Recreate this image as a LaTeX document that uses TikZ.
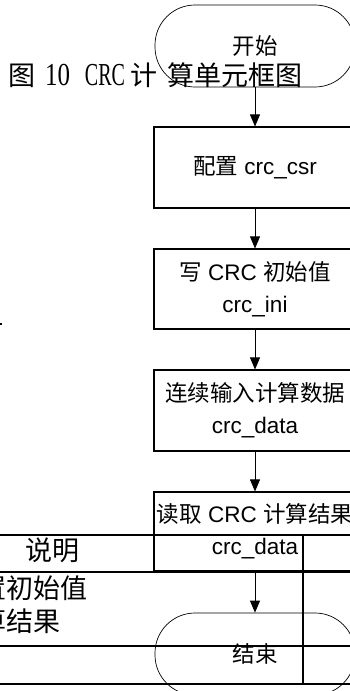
\documentclass[tikz,border=0pt]{standalone}
\usepackage{fontspec}
\usepackage{graphicx}
\setmainfont{Liberation Sans}
\newfontfamily\cjk{Noto Sans CJK SC}
\newfontfamily\seriffont{Liberation Serif}
\usetikzlibrary{arrows.meta}
\newcommand{\zh}[1]{{\cjk #1}}
\newcommand{\flowfont}{\fontsize{22.5}{32}\selectfont}
\newcommand{\capfont}{\cjk\fontsize{27}{30}\selectfont}
\begin{document}
\begin{tikzpicture}[x=1pt,y=-1pt,
  box/.style={draw, line width=1.1pt, minimum width=202pt, inner sep=0pt, align=center, font=\flowfont},
  term/.style={draw, line width=0.7pt, rounded corners=40pt, minimum width=200pt, minimum height=82pt, inner sep=0pt, font=\flowfont},
  arr/.style={line width=0.9pt, -{Triangle[length=12pt,width=10pt]}},
  tab/.style={line width=2.6pt},
  lbl/.style={anchor=base, inner sep=0pt},
]
\useasboundingbox (0,0) rectangle (350,691);
\clip (0,0) rectangle (350,691);
% table
\draw[tab] (0,535) -- (350,535);
\draw[tab] (0,572) -- (350,572);
\draw[tab] (0,646) -- (350,646);
\draw[tab] (0,684) -- (350,684);
\draw[line width=2pt] (303,535) -- (303,684);
\node[lbl, font=\capfont] (t1) at (52.5,560) {说明};
\node[lbl, anchor=base west, font=\capfont] (t2) at (-21,598) {置初始值};
\node[lbl, anchor=base west, font=\capfont] (t3) at (-21,631) {算结果};
\fill (0,323) rectangle (2,325);
% flowchart
\node[term] (s) at (255,46) {\zh{开始}};
\node[box, minimum height=81pt] (b1) at (255,167.5) {\zh{配置} crc\_csr};
\node[box, minimum height=80pt] (b2) at (255,289) {\zh{写} CRC \zh{初始值}\\crc\_ini};
\node[box, minimum height=81pt] (b3) at (255,410.5) {\zh{连续输入计算数据}\\crc\_data};
\node[box, minimum height=79pt] (b4) at (255,531.5) {\zh{读取} CRC \zh{计算结果}\\crc\_data};
\node[term] (e) at (255,654) {\zh{结束}};
\draw[arr] (s.south) -- (b1.north);
\draw[arr] (b1.south) -- (b2.north);
\draw[arr] (b2.south) -- (b3.north);
\draw[arr] (b3.south) -- (b4.north);
\draw[arr] (b4.south) -- (e.north);
% caption
\node[lbl, font=\capfont] (c1) at (22.5,85) {图};
\node[lbl] (c2) at (57.5,85) {\seriffont\fontsize{32}{34}\selectfont\scalebox{0.78}[1]{10}};
\node[lbl] (c3) at (105,85) {\seriffont\fontsize{32}{34}\selectfont\scalebox{0.625}[1]{CRC}};
\node[lbl, font=\capfont] (c4) at (143.5,85) {计};
\node[lbl, font=\capfont] (c5) at (235,85) {算单元框图};
\end{tikzpicture}
\end{document}
